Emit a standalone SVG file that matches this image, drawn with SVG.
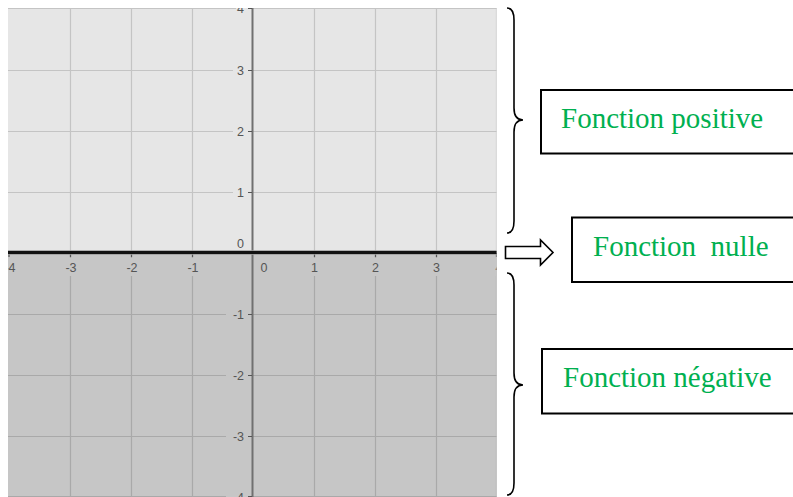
<svg xmlns="http://www.w3.org/2000/svg" width="793" height="497" viewBox="0 0 793 497">
<style>
.gu{stroke:#c4c4c4;stroke-width:1.2;fill:none}
.gl{stroke:#a9a9a9;stroke-width:1.2;fill:none}
.tick{stroke:#555;stroke-width:1.2}
.lab{font-family:"Liberation Sans",Arial,sans-serif;font-size:12.5px;fill:#555}
.bu{fill:#e6e6e6}
.bl{fill:#c6c6c6}
.box{fill:#fff;stroke:#000;stroke-width:2}
.txt{font-family:"Liberation Serif","Times New Roman",serif;font-size:29px;fill:#00b050;white-space:pre}
.br{fill:none;stroke:#000;stroke-width:1.6}
</style>
<defs>
<clipPath id="gclip"><rect x="8" y="8" width="488.5" height="489"/></clipPath>
</defs>
<rect width="793" height="497" fill="#fff"/>
<g id="graph" clip-path="url(#gclip)">
<rect x="8" y="8" width="489" height="244.5" fill="#e6e6e6"/>
<rect x="8" y="252.5" width="489" height="245" fill="#c6c6c6"/>
<g class="gu">
<path d="M8,8.5H497M8,70.5H497M8,131.5H497M8,192.5H497"/>
<path d="M70.5,8V252M131.5,8V252M192.5,8V252M314.5,8V252M375.5,8V252M436.5,8V252M496.5,8V252"/>
</g>
<g class="gl">
<path d="M8,314.5H497M8,375.5H497M8,436.5H497M8,496.5H497"/>
<path d="M70.5,253V497M131.5,253V497M192.5,253V497M314.5,253V497M375.5,253V497M436.5,253V497M496.5,253V497"/>
</g>
<!-- label backgrounds -->
<rect class="bu" x="236" y="0" width="12" height="14"/>
<rect class="bu" x="233" y="64" width="15" height="13"/>
<rect class="bu" x="233" y="125" width="15" height="13"/>
<rect class="bu" x="233" y="186" width="15" height="13"/>
<rect class="bu" x="233" y="238" width="15" height="12"/>
<rect class="bl" x="226" y="308" width="22" height="13"/>
<rect class="bl" x="226" y="369" width="22" height="13"/>
<rect class="bl" x="226" y="430" width="22" height="13"/>
<rect class="bl" x="226" y="490" width="22" height="10"/>
<rect class="bl" x="4" y="258" width="16" height="18"/>
<rect class="bl" x="62" y="258" width="18" height="18"/>
<rect class="bl" x="123" y="258" width="18" height="18"/>
<rect class="bl" x="184" y="258" width="18" height="18"/>
<rect class="bl" x="257" y="258" width="13" height="18"/>
<rect class="bl" x="308" y="258" width="13" height="18"/>
<rect class="bl" x="369" y="258" width="13" height="18"/>
<rect class="bl" x="430" y="258" width="13" height="18"/>
<rect class="bl" x="491" y="258" width="13" height="18"/>
<!-- y axis -->
<line x1="252.5" y1="8" x2="252.5" y2="497" stroke="#707070" stroke-width="2"/>
<!-- ticks -->
<path class="tick" d="M248,8.5H252M248,70.5H252M248,131.5H252M248,192.5H252M248,314.5H252M248,375.5H252M248,436.5H252M248,496.5H252"/>
<path class="tick" d="M9,253V257M70.5,253V257M131.5,253V257M192.5,253V257M314.5,253V257M375.5,253V257M436.5,253V257M496.5,253V257"/>
<!-- x axis -->
<line x1="8" y1="252.5" x2="497" y2="252.5" stroke="#9a9a9a" stroke-width="4.5"/>
<line x1="8" y1="252.5" x2="497" y2="252.5" stroke="#111" stroke-width="3"/>
<!-- y labels -->
<g class="lab" text-anchor="end">
<text x="244" y="13">4</text>
<text x="244" y="75">3</text>
<text x="244" y="136">2</text>
<text x="244" y="197">1</text>
<text x="244" y="248">0</text>
<text x="244" y="319">-1</text>
<text x="244" y="380">-2</text>
<text x="244" y="441">-3</text>
<text x="244" y="502">-4</text>
</g>
<!-- x labels -->
<g class="lab" text-anchor="middle">
<text x="10" y="272">-4</text>
<text x="71" y="272">-3</text>
<text x="132" y="272">-2</text>
<text x="193" y="272">-1</text>
<text x="264" y="272">0</text>
<text x="314.5" y="272">1</text>
<text x="375.5" y="272">2</text>
<text x="436.5" y="272">3</text>
<text x="499" y="272">4</text>
</g>
</g>
<g id="connectors">
<path id="brace-top" class="br" d="M507,8 Q514,8 514,20 L514,108 Q514,120 523,120 Q514,120 514,132 L514,221 Q514,233 507,233"/>
<path id="brace-bottom" class="br" d="M507,273 Q514,273 514,285 L514,373 Q514,385 523,385 Q514,385 514,397 L514,483 Q514,495 507,495"/>
<path id="arrow-nulle" d="M505.5,246.5 H540.5 V240 L553,252.5 L540.5,265 V258.5 H505.5 Z" fill="#fff" stroke="#000" stroke-width="1.6"/>
</g>
<g id="box-positive">
<rect class="box" x="541" y="90" width="260" height="63.5"/>
<text class="txt" x="561" y="128">Fonction positive</text>
</g>
<g id="box-nulle">
<rect class="box" x="572" y="217.5" width="230" height="64.5"/>
<text class="txt" x="593" y="256">Fonction  nulle</text>
</g>
<g id="box-negative">
<rect class="box" x="542" y="349" width="260" height="64.5"/>
<text class="txt" x="563" y="387">Fonction négative</text>
</g>
</svg>
